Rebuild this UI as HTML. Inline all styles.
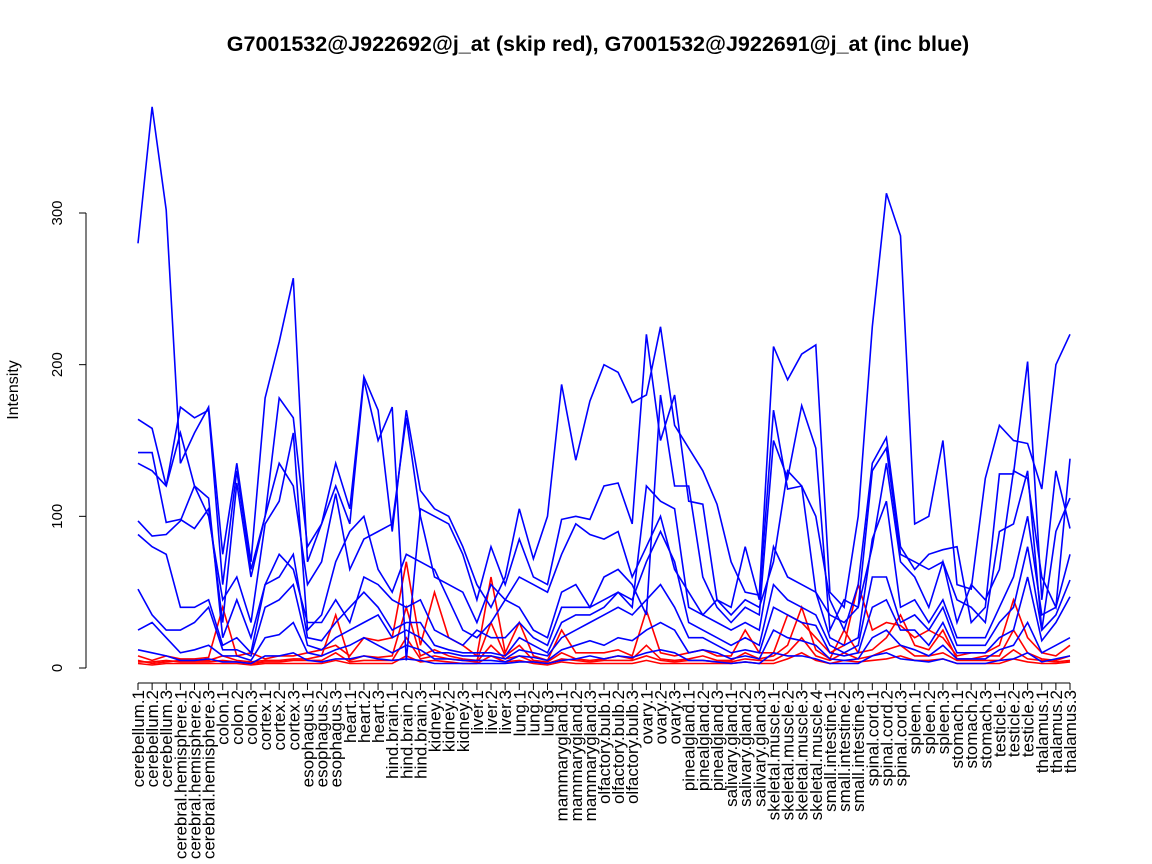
<!DOCTYPE html>
<html><head><meta charset="utf-8"><style>
html,body{margin:0;padding:0;background:#fff;}
svg{display:block;font-family:"Liberation Sans",sans-serif;}
</style></head><body>
<svg id="chart" width="1152" height="864" viewBox="0 0 1152 864">
<text x="598" y="51" text-anchor="middle" font-size="21.5" font-weight="bold">G7001532@J922692@j_at (skip red), G7001532@J922691@j_at (inc blue)</text>
<text transform="translate(18,390) rotate(-90)" text-anchor="middle" font-size="16">Intensity</text>
<g id="axes"></g><g id="lines"></g>
</svg>
<script>
const categories=["cerebellum.1","cerebellum.2","cerebellum.3","cerebral.hemisphere.1","cerebral.hemisphere.2","cerebral.hemisphere.3","colon.1","colon.2","colon.3","cortex.1","cortex.2","cortex.3","esophagus.1","esophagus.2","esophagus.3","heart.1","heart.2","heart.3","hind.brain.1","hind.brain.2","hind.brain.3","kidney.1","kidney.2","kidney.3","liver.1","liver.2","liver.3","lung.1","lung.2","lung.3","mammarygland.1","mammarygland.2","mammarygland.3","olfactory.bulb.1","olfactory.bulb.2","olfactory.bulb.3","ovary.1","ovary.2","ovary.3","pinealgland.1","pinealgland.2","pinealgland.3","salivary.gland.1","salivary.gland.2","salivary.gland.3","skeletal.muscle.1","skeletal.muscle.2","skeletal.muscle.3","skeletal.muscle.4","small.intestine.1","small.intestine.2","small.intestine.3","spinal.cord.1","spinal.cord.2","spinal.cord.3","spleen.1","spleen.2","spleen.3","stomach.1","stomach.2","stomach.3","testicle.1","testicle.2","testicle.3","thalamus.1","thalamus.2","thalamus.3"];
const yTicks=[0,100,200,300];
const blue1=[280,370,302,135,155,172,75,135,70,178,215,257,70,95,135,105,192,170,90,170,117,105,100,80,55,40,60,105,72,100,187,137,176,200,195,175,180,225,160,145,130,108,70,50,48,212,190,207,213,50,40,100,225,313,285,95,100,150,55,52,125,160,150,148,118,200,220];
const blue2=[164,158,120,172,165,170,55,130,65,100,178,165,80,95,120,95,190,150,172,5,105,100,95,75,45,80,55,85,60,55,98,100,98,120,122,95,220,150,180,110,108,45,40,80,45,170,118,120,100,45,25,55,135,152,80,65,75,78,80,30,40,128,128,202,45,130,92];
const blue3=[142,142,96,98,92,105,30,122,60,100,135,120,55,70,115,65,85,90,95,165,100,60,55,50,30,55,45,60,55,50,75,95,88,85,90,60,80,100,65,50,35,45,35,45,40,70,130,120,50,35,30,40,130,145,75,70,65,70,45,40,30,90,95,130,25,90,112];
const blue4=[135,130,120,155,120,100,45,60,30,95,110,155,25,35,70,90,100,65,50,75,70,65,45,25,20,30,45,40,25,20,50,55,40,60,65,55,35,180,120,120,60,40,30,40,35,150,125,173,145,25,45,40,80,135,70,60,40,70,30,55,45,65,130,125,60,40,138];
const blue5=[97,87,88,97,120,112,20,45,20,55,75,65,30,30,45,30,60,55,45,40,45,25,20,15,25,20,20,30,20,15,40,40,40,45,50,40,120,110,105,40,35,30,25,30,25,80,60,55,50,20,15,20,85,110,40,45,30,45,20,20,20,40,60,100,35,40,75];
const blue6=[88,80,75,40,40,45,15,20,10,55,60,75,20,18,30,40,50,40,25,30,30,15,12,10,10,10,8,20,15,10,30,35,35,40,50,45,70,90,70,30,25,20,15,20,15,55,45,40,35,15,10,15,60,60,30,35,25,40,15,15,15,30,40,80,25,35,58];
const blue7=[52,35,25,25,30,40,12,12,8,40,45,55,15,12,20,25,30,35,20,25,20,10,10,8,8,8,6,12,10,8,20,25,30,35,40,35,45,55,40,20,20,15,10,12,10,40,35,30,28,10,8,10,40,45,25,25,15,30,10,10,10,20,25,60,18,30,47];
const blue8=[25,30,20,10,12,15,8,8,5,20,22,30,10,8,12,15,20,15,10,15,12,6,6,5,5,5,4,8,7,5,12,15,18,15,20,18,25,30,25,10,12,10,6,8,6,25,20,18,15,6,5,6,20,25,15,12,8,15,6,6,6,12,15,30,10,15,20];
const blue9=[12,10,8,5,5,6,4,4,3,8,8,10,5,4,6,6,8,6,5,6,5,3,3,3,3,3,3,4,4,3,5,6,8,6,8,7,10,12,10,5,5,4,3,4,3,10,8,8,6,3,3,3,8,10,6,5,4,6,3,3,3,5,6,10,4,6,8];
const red1=[8,5,8,6,6,7,40,8,10,6,8,8,10,12,15,8,20,18,20,70,15,50,20,15,8,60,10,30,8,5,25,10,10,10,12,8,38,10,8,10,12,8,8,25,10,10,35,30,20,10,15,55,25,30,28,20,25,20,8,10,10,15,45,20,10,8,15];
const red2=[5,3,4,5,5,5,8,5,4,5,5,6,6,8,35,5,8,7,8,40,8,12,8,6,5,30,8,15,5,4,10,6,5,6,8,6,15,6,5,6,8,5,5,10,6,8,15,40,12,6,25,10,12,20,35,15,12,25,6,6,8,8,25,10,6,5,8];
const red3=[4,4,5,4,4,4,5,4,3,4,4,5,5,5,10,4,5,5,5,20,6,8,6,5,4,15,6,8,4,3,6,5,4,5,5,5,8,5,4,5,5,4,4,6,5,5,10,20,8,5,10,6,8,12,15,8,8,10,5,5,5,5,12,6,5,4,5];
const red4=[3,2,3,3,3,3,3,3,2,3,3,3,3,3,5,3,3,3,3,8,4,5,4,3,3,8,4,5,3,2,4,3,3,3,3,3,5,3,3,3,3,3,3,4,3,3,6,10,5,3,5,4,5,6,8,5,5,6,3,3,3,3,6,4,3,3,4];
const blueSeries=[blue1,blue2,blue3,blue4,blue5,blue6,blue7,blue8,blue9];
const redSeries=[red1,red2,red3,red4];
const NS="http://www.w3.org/2000/svg";
const x0=138,x1=1070,y0=668,yPerUnit=(668-213)/300;
function xScale(i){return x0+(x1-x0)*i/(categories.length-1);}
function yScale(v){return y0-v*yPerUnit;}
function mk(tag,attrs,parent){const e=document.createElementNS(NS,tag);for(const k in attrs)e.setAttribute(k,attrs[k]);parent.appendChild(e);return e;}
const axes=document.getElementById('axes');
let ya=mk('line',{x1:86,x2:86,y1:yScale(0),y2:yScale(300),stroke:'#000'},axes);


yTicks.forEach(t=>{
  const tk=mk('line',{x1:79,x2:86,y1:yScale(t),y2:yScale(t),stroke:'#000'},axes);
  
  
  const tl=mk('text',{transform:`translate(62,${yScale(t)}) rotate(-90)`,'text-anchor':'middle','font-size':15},axes);
  tl.textContent=t;
  
  
});
let xa=mk('line',{x1:x0,x2:x1,y1:683,y2:683,stroke:'#000'},axes);


categories.forEach((c,i)=>{
  const x=xScale(i);
  const tk=mk('line',{x1:x,x2:x,y1:683,y2:690,stroke:'#000'},axes);
  
  
  const tl=mk('text',{transform:`translate(${x+6},690) rotate(-90)`,'text-anchor':'end','font-size':17},axes);
  tl.textContent=c;
  
  
});
const lines=document.getElementById('lines');
function draw(s,color,name){
  const p=mk('polyline',{points:s.map((v,i)=>xScale(i).toFixed(1)+','+yScale(v).toFixed(1)).join(' '),fill:'none',stroke:color,'stroke-width':1.6},lines);
  
  
}
redSeries.forEach((s,k)=>draw(s,'#ff0000','red-series-'+(k+1)));
blueSeries.forEach((s,k)=>draw(s,'#0000ff','blue-series-'+(k+1)));
</script>
</body></html>
